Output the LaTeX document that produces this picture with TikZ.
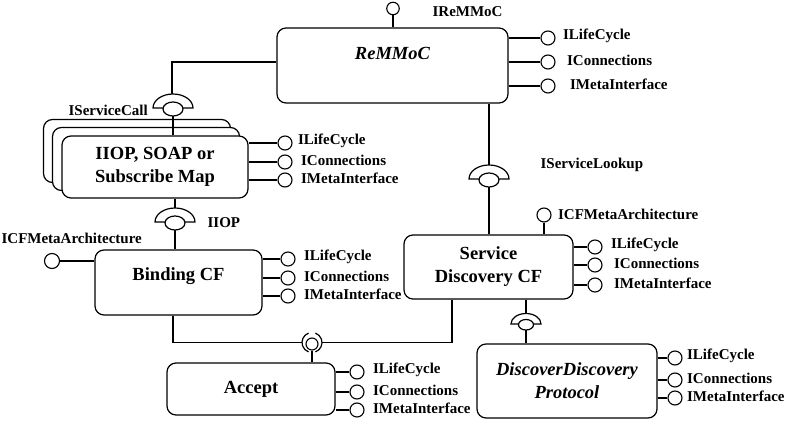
\documentclass[tikz,border=0pt]{standalone}
\usepackage{fontspec}
\setmainfont{Liberation Serif}

\tikzset{
  comp/.style={draw,rounded corners=9pt,line width=1.2pt,fill=white,align=center,
    font=\bfseries\fontsize{18.5}{23}\selectfont},
  ball/.style={draw,circle,line width=1.1pt,fill=white,minimum size=14pt,inner sep=0pt},
  iflabel/.style={font=\bfseries\fontsize{15}{17}\selectfont,inner sep=0pt},
  pics/socket/.style={code={
    \draw[fill=white] (-20pt,0) arc[start angle=180,end angle=0,x radius=20pt,y radius=14pt] -- cycle;
    \draw[fill=white] (0,1) ellipse[x radius=10pt,y radius=7pt];
    \coordinate (-top) at (0,-14);
    \coordinate (-bottom) at (0,8);
  }}
}

\begin{document}
\begin{tikzpicture}[x=1pt,y=-1pt,line width=1.2pt]
  \useasboundingbox (0,0) rectangle (796,422);

  % components
  \node[comp,minimum width=231pt,minimum height=75pt,text depth=25pt] (remmoc) at (392.5,65.5) {\itshape ReMMoC};
  \node[comp,minimum width=187pt,minimum height=63pt] (iiop-back) at (137,151) {};
  \node[comp,minimum width=187pt,minimum height=63pt] (iiop-mid) at (146,159) {};
  \node[comp,minimum width=186pt,minimum height=62pt] (iiop) at (155,167) {IIOP, SOAP or\\Subscribe Map};
  \node[comp,minimum width=167pt,minimum height=65pt,text depth=16pt] (binding) at (178.5,282.5) {Binding CF};
  \node[comp,minimum width=169pt,minimum height=64pt] (sd) at (488.5,267) {Service\\Discovery CF};
  \node[comp,minimum width=168pt,minimum height=52pt] (accept) at (251,389) {Accept};
  \node[comp,minimum width=180pt,minimum height=74pt] (ddp) at (567,381) {\itshape DiscoverDiscovery\\\itshape Protocol};

  % provided interfaces
  \foreach \i/\y/\t/\g in {lc/38/ILifeCycle/7,co/62/IConnections/11,mi/86/IMetaInterface/14} {
    \node[ball,label={[iflabel,label distance=\g pt,yshift=2pt]right:\t}] (remmoc-\i) at (548,\y) {};
    \draw (remmoc-\i.west) -- (remmoc-\i.west -| remmoc.east);
  }
  \foreach \i/\y/\t/\g in {lc/143/ILifeCycle/5,co/162/IConnections/8,mi/180/IMetaInterface/8} {
    \node[ball,label={[iflabel,label distance=\g pt,yshift=2pt]right:\t}] (iiop-\i) at (285,\y) {};
    \draw (iiop-\i.west) -- (iiop-\i.west -| iiop.east);
  }
  \foreach \i/\y/\t in {lc/259/ILifeCycle,co/278/IConnections,mi/296/IMetaInterface} {
    \node[ball,label={[iflabel,label distance=8pt,yshift=2pt]right:\t}] (binding-\i) at (288,\y) {};
    \draw (binding-\i.west) -- (binding-\i.west -| binding.east);
  }
  \foreach \i/\y/\t/\g in {lc/247/ILifeCycle/8,co/265/IConnections/11,mi/285/IMetaInterface/11} {
    \node[ball,label={[iflabel,label distance=\g pt,yshift=2pt]right:\t}] (sd-\i) at (595,\y) {};
    \draw (sd-\i.west) -- (sd-\i.west -| sd.east);
  }
  \foreach \i/\y/\t in {lc/372/ILifeCycle,co/392/IConnections,mi/410/IMetaInterface} {
    \node[ball,label={[iflabel,label distance=8pt,yshift=2pt]right:\t}] (accept-\i) at (357,\y) {};
    \draw (accept-\i.west) -- (accept-\i.west -| accept.east);
  }
  \foreach \i/\y/\t in {lc/358/ILifeCycle,co/380/IConnections,mi/398/IMetaInterface} {
    \node[ball,label={[iflabel,label distance=4pt,yshift=2pt]right:\t}] (ddp-\i) at (675,\y) {};
    \draw (ddp-\i.west) -- (ddp-\i.west -| ddp.east);
  }

  \node[ball,minimum size=12.5pt] (remmoc-top) at (393,8.5) {};
  \draw (remmoc-top) -- (remmoc-top |- remmoc.north);
  \node[iflabel,anchor=west] (remmoc-toplbl) at (432,12) {IReMMoC};

  \node[ball,minimum size=15pt] (binding-cfma) at (52,261) {};
  \draw (binding-cfma.east) -- (binding-cfma.east -| binding.west);
  \node[iflabel,anchor=west] (binding-cfmalbl) at (1,238) {ICFMetaArchitecture};

  \node[ball,label={[iflabel,label distance=6pt,yshift=1pt]right:ICFMetaArchitecture}] (sd-cfma) at (544,215) {};
  \draw (sd-cfma.south) -- (sd-cfma.south |- sd.north);

  % required interfaces
  \draw ([yshift=3.5pt]remmoc.west) -| (172,95);
  \pic (s1) at (173,108) {socket};
  \draw (s1-bottom) -- (s1-bottom |- iiop.north);
  \node[iflabel,anchor=west] (s1-lbl) at (68,110) {IServiceCall};

  \draw (175,0 |- iiop.south) -- (175,208);
  \pic (s2) at (175,222) {socket};
  \draw (s2-bottom) -- (s2-bottom |- binding.north);
  \node[iflabel,anchor=west] (s2-lbl) at (207,223) {IIOP};

  \draw (489,0 |- remmoc.south) -- (489,165);
  \pic (s3) at (489,179) {socket};
  \draw (s3-bottom) -- (s3-bottom |- sd.north);
  \node[iflabel,anchor=west] (s3-lbl) at (540,165) {IServiceLookup};

  \draw (526,0 |- sd.south) -- (526,313.5);
  \pic[scale=0.75] (s4) at (526,324) {socket};
  \draw (s4-bottom) -- (s4-bottom |- ddp.north);

  % accept connector
  \coordinate (ring) at (312,342.5);
  \coordinate (ring-w) at (302,342.5);
  \coordinate (ring-e) at (322,342.5);
  \draw (ring) ++(110:10pt) arc[start angle=110,end angle=250,radius=10pt];
  \draw (ring) ++(-70:10pt) arc[start angle=-70,end angle=70,radius=10pt];
  \node[ball,minimum size=12pt] (ring-ball) at (312,344) {};
  \draw (173,0 |- binding.south) |- (ring-w);
  \draw ([xshift=-36.5pt]sd.south) |- (ring-e);
  \draw (ring-ball.south) -- (ring-ball.south |- accept.north);
\end{tikzpicture}
\end{document}
